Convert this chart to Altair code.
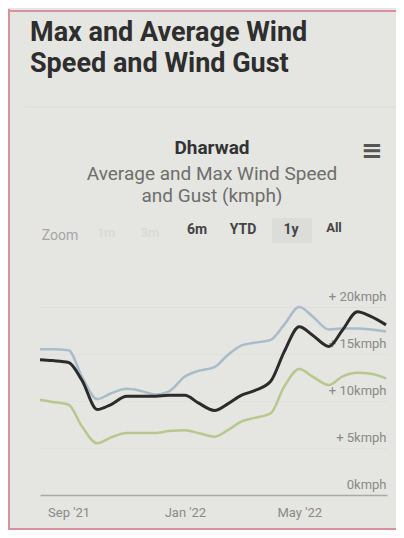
import altair as alt
import pandas as pd

# ---- data ----
dates = ["2021-08-02", "2021-08-15", "2021-09-01", "2021-09-15", "2021-10-01",
         "2021-10-15", "2021-11-01", "2021-11-15", "2021-12-01", "2021-12-15",
         "2022-01-01", "2022-01-15", "2022-02-01", "2022-02-15", "2022-03-01",
         "2022-03-15", "2022-04-01", "2022-04-15", "2022-05-01", "2022-05-15",
         "2022-06-01", "2022-06-15", "2022-07-01", "2022-07-15", "2022-07-31"]
gust = [15.5, 15.5, 15.4, 12.6, 10.2, 10.8, 11.3, 11.1, 10.7, 11.0,
        12.6, 13.2, 13.6, 14.9, 15.9, 16.2, 16.5, 18.1, 20.0, 19.0,
        17.6, 17.7, 17.7, 17.6, 17.4]
max_speed = [14.4, 14.3, 14.1, 12.2, 9.1, 9.6, 10.5, 10.5, 10.5, 10.6,
             10.6, 9.8, 9.0, 9.7, 10.6, 11.1, 12.1, 15.2, 17.9, 17.0,
             15.8, 17.5, 19.5, 19.0, 18.1]
avg_speed = [10.1, 9.9, 9.6, 7.3, 5.5, 6.1, 6.6, 6.6, 6.6, 6.8,
             6.9, 6.6, 6.2, 6.9, 7.8, 8.2, 8.7, 11.5, 13.4, 12.6,
             11.7, 12.6, 13.0, 12.9, 12.4]
series_names = ["Wind Gust", "Max Wind Speed", "Average Wind Speed"]
series_colors = ["#a9bccb", "#2b2b2b", "#b7c88e"]
series_widths = [2.5, 3, 2.5]
y_ticks = [0, 5, 10, 15, 20]

rows = []
for name, vals in zip(series_names, [gust, max_speed, avg_speed]):
    for d, v in zip(dates, vals):
        rows.append({"date": d + "T00:00:00", "series": name, "value": v})
df = pd.DataFrame(rows)

W, H = 347, 188
BG = "#e5e5e1"

x_enc = alt.X("date:T",
              scale=alt.Scale(domain=[alt.DateTime(year=2021, month=8, date=2),
                                      alt.DateTime(year=2022, month=8, date=1)]),
              axis=alt.Axis(title=None, format="%b '%y", ticks=False, tickSize=0,
                            grid=False, domainColor="#a9a9a6", domainWidth=1.5,
                            labelColor="#8a8a88", labelFontSize=13, labelFont="Roboto",
                            labelPadding=11,
                            values=[alt.DateTime(year=2021, month=9, date=1),
                                    alt.DateTime(year=2022, month=1, date=1),
                                    alt.DateTime(year=2022, month=5, date=1)]))
y_enc = alt.Y("value:Q", scale=alt.Scale(domain=[0, 20], nice=False),
              axis=alt.Axis(title=None, orient="right", values=y_ticks, grid=True,
                            gridColor="#e0e0dc", gridWidth=1, domain=False,
                            ticks=False, tickSize=0, labelAlign="right",
                            labelBaseline="bottom", labelPadding=-1, labelOffset=-4,
                            labelColor="#8a8a88", labelFontSize=13, labelFont="Roboto",
                            labelExpr="datum.value == 0 ? '0kmph' : '+ ' + datum.value + 'kmph'"))

lines = []
for name, col, w in zip(series_names, series_colors, series_widths):
    lines.append(
        alt.Chart(df).transform_filter(alt.datum.series == name)
        .mark_line(interpolate="monotone", color=col, strokeWidth=w)
        .encode(x=x_enc, y=y_enc)
    )

one = alt.InlineData(values=[{}])


def txt(s, x, y, size, color, weight="normal", align="center", font="Roboto"):
    return alt.Chart(one).mark_text(text=s, fontSize=size, color=color, fontWeight=weight,
                                    align=align, baseline="alphabetic", font=font).encode(
        x=alt.value(x), y=alt.value(y))


def rule(x, x2, y, y2, color, w):
    return alt.Chart(one).mark_rule(color=color, strokeWidth=w).encode(
        x=alt.value(x), x2=alt.value(x2), y=alt.value(y), y2=alt.value(y2))


deco = [
    rule(-31, -31, -298, 223, "#d8929e", 2),
    rule(-31, 356, -296, -296, "#d8929e", 2),
    rule(-31, 356, 222, 222, "#d8929e", 2),
    rule(-15, 356, -200, -200, "#dbdbd7", 1),
    alt.Chart(one).mark_rect(color="#dcdcd8", cornerRadius=2).encode(
        x=alt.value(232), x2=alt.value(272), y=alt.value(-89), y2=alt.value(-64)),
    txt("Max and Average Wind", -10, -266, 27, "#2e2e2e", "bold", "left"),
    txt("Speed and Wind Gust", -10, -235, 27, "#2e2e2e", "bold", "left"),
    txt("Dharwad", 172, -153, 19, "#333333", "bold"),
    txt("Average and Max Wind Speed", 172, -127, 19, "#6e6e6c"),
    txt("and Gust (kmph)", 172, -105, 19, "#6e6e6c"),
    txt("≡", 332, -148, 26, "#555555", "bold", "center", "DejaVu Sans"),
    txt("Zoom", 20, -67, 14, "#a6a6a4"),
    txt("1m", 66, -70, 13, "#dadad6", "bold"),
    txt("3m", 110, -70, 13, "#dadad6", "bold"),
    txt("6m", 157, -73, 14, "#444444", "bold"),
    txt("YTD", 203, -73, 14, "#444444", "bold"),
    txt("1y", 251, -73, 14, "#444444", "bold"),
    txt("All", 294, -75, 13, "#444444", "bold"),
]

chart = alt.layer(*deco, *lines).properties(
    width=W, height=H,
    autosize=alt.AutoSizeParams(type="none"),
    padding={"left": 32, "top": 299, "right": 9, "bottom": 35},
    background=BG,
).configure_view(stroke=None)

chart.save("out.html", embed_options={"renderer": "svg", "actions": False})
